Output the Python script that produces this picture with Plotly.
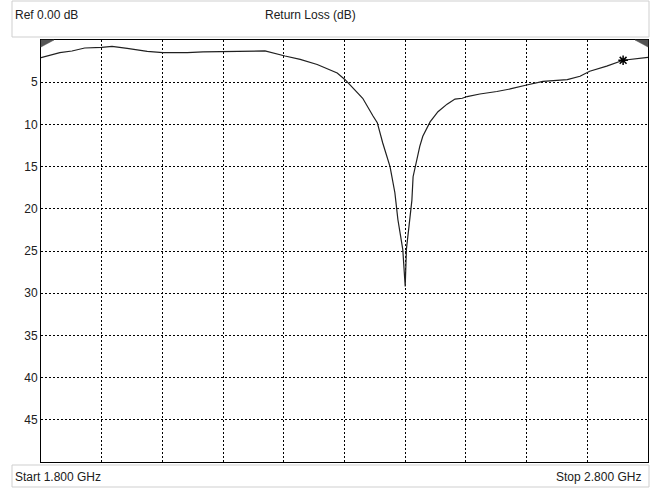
import plotly.graph_objects as go

# Data (frequency in GHz, return loss in dB)
freq_ghz = [1.800, 1.8115, 1.831, 1.851, 1.872, 1.900, 1.917, 1.942, 1.975, 2.001,
            2.041, 2.067, 2.100, 2.128, 2.169, 2.202, 2.227, 2.255, 2.288, 2.301,
            2.314, 2.330, 2.347, 2.354, 2.363, 2.375, 2.383, 2.388, 2.396, 2.400,
            2.402, 2.408, 2.411, 2.413, 2.424, 2.429, 2.441, 2.454, 2.469, 2.482,
            2.494, 2.502, 2.523, 2.551, 2.573, 2.602, 2.627, 2.667, 2.688, 2.704,
            2.732, 2.759, 2.800]
return_loss_db = [2.1, 1.9, 1.5, 1.3, 0.95, 0.87, 0.75, 1.0, 1.35, 1.5,
                  1.5, 1.4, 1.35, 1.3, 1.3, 1.9, 2.3, 2.9, 3.9, 4.7,
                  5.7, 6.9, 9.0, 9.8, 12.2, 15.0, 18.1, 21.3, 24.8, 29.2,
                  24.8, 21.3, 19.0, 16.2, 12.6, 11.4, 9.7, 8.5, 7.6, 7.0,
                  6.9, 6.7, 6.4, 6.1, 5.8, 5.3, 4.9, 4.7, 4.3, 3.7,
                  3.1, 2.4, 2.05]
marker_freq = [2.759]
marker_db = [2.4]
y_ticks = [5, 10, 15, 20, 25, 30, 35, 40, 45]
x_grid = [1.9, 2.0, 2.1, 2.2, 2.3, 2.4, 2.5, 2.6, 2.7]

W, H = 653, 488
L, R, T, B = 41, 648, 40, 462


def px(x):
    return (x - L) / (R - L)


def py(y):
    return (B - y) / (B - T)


fig = go.Figure()
fig.add_trace(go.Scatter(x=freq_ghz, y=return_loss_db, mode="lines",
                         line=dict(color="#202020", width=1.2), hoverinfo="skip"))
fig.add_trace(go.Scatter(x=marker_freq, y=marker_db, mode="markers",
                         marker=dict(symbol="asterisk-open", size=8, color="black",
                                     line=dict(color="black", width=1.5)),
                         hoverinfo="skip"))

font = dict(family="Liberation Sans, Arial, sans-serif", size=12, color="#202020")

shapes = [
    # header box
    dict(type="rect", xref="paper", yref="paper", x0=px(12), x1=px(649), y0=py(37), y1=py(1),
         line=dict(color="#cfcfcf", width=1), fillcolor="rgba(0,0,0,0)", layer="below"),
    # footer box
    dict(type="rect", xref="paper", yref="paper", x0=px(12), x1=px(649), y0=py(487), y1=py(465),
         line=dict(color="#cfcfcf", width=1), fillcolor="rgba(0,0,0,0)", layer="below"),
    # corner triangles
    dict(type="path", xref="paper", yref="paper",
         path=f"M {px(41)},{py(40)} L {px(54)},{py(40)} L {px(41)},{py(47)} Z",
         fillcolor="#555555", line=dict(color="#555555", width=0.5)),
    dict(type="path", xref="paper", yref="paper",
         path=f"M {px(648)},{py(40)} L {px(635)},{py(40)} L {px(648)},{py(47)} Z",
         fillcolor="#555555", line=dict(color="#555555", width=0.5)),
]

annotations = [
    dict(text="Ref 0.00 dB", x=px(13), y=py(15), xref="paper", yref="paper",
         xanchor="left", yanchor="middle", showarrow=False, font=font),
    dict(text="Return Loss (dB)", x=px(310), y=py(15), xref="paper", yref="paper",
         xanchor="center", yanchor="middle", showarrow=False, font=font),
    dict(text="Start 1.800 GHz", x=px(13), y=py(477), xref="paper", yref="paper",
         xanchor="left", yanchor="middle", showarrow=False, font=font),
    dict(text="Stop 2.800 GHz", x=px(643), y=py(477), xref="paper", yref="paper",
         xanchor="right", yanchor="middle", showarrow=False, font=font),
]

fig.update_layout(
    width=W, height=H,
    margin=dict(l=L, r=W - R, t=T, b=H - B, pad=0),
    paper_bgcolor="white", plot_bgcolor="white",
    showlegend=False,
    shapes=shapes, annotations=annotations,
    xaxis=dict(range=[1.8, 2.8], tickvals=x_grid, showticklabels=False,
               showgrid=True, gridcolor="#000000", gridwidth=1, griddash="2px,2px",
               showline=True, linecolor="black", linewidth=1, mirror=True,
               zeroline=False, ticks=""),
    yaxis=dict(range=[50, 0], tickvals=y_ticks, ticktext=[str(v) for v in y_ticks],
               showgrid=True, gridcolor="#000000", gridwidth=1, griddash="2px,2px",
               showline=True, linecolor="black", linewidth=1, mirror=True,
               zeroline=False, ticks="", ticklen=0, tickfont=font),
)

fig.write_html("out.html", config={"displayModeBar": False},
               post_script="document.body.style.margin='0';document.body.style.overflow='hidden';")
